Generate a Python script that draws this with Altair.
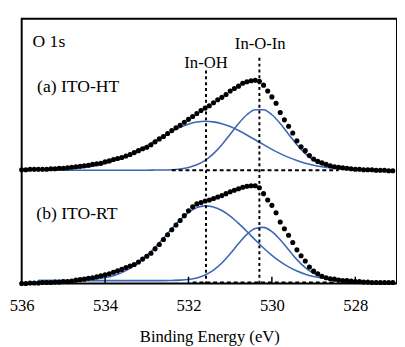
import altair as alt
import pandas as pd

# ---- data -----------------------------------------------------------------
# binding energy grid of the measured spectra (eV), 0.1 eV step
energy = [round(536.0 - 0.1 * i, 1) for i in range(90)]

# (a) ITO-HT measured O 1s intensity (arb. units, offset)
ht_counts = [
    116.5, 116.5, 117, 117, 117, 117, 117, 117.5, 117.5, 118,
    118, 118.5, 119, 119.5, 120, 120.5, 121, 122, 122.5, 123,
    124.5, 125.5, 127, 128, 129, 130.5, 132, 134, 136, 138,
    139.5, 142, 145, 148, 150.5, 153.5, 156.5, 159.5, 162, 165,
    168, 171, 174, 177, 179.5, 182, 185, 188, 190.5, 193.5,
    197, 199.5, 202, 205, 206.5, 207.5, 208, 207, 203, 197,
    191, 184.5, 175, 167.5, 161, 154, 146, 140, 136, 131,
    127.5, 125, 123.5, 122, 120.5, 119.5, 119, 118.5, 118, 117.5,
    117, 117, 116.5, 116.5, 116.5, 116, 116, 116, 115.5, 115.5,
]

# (b) ITO-RT measured O 1s intensity (arb. units)
rt_counts = [
    0, 0, 0.5, 0.5, 0.5, 1, 1, 1, 1.5, 1.5,
    2, 2, 2.5, 3.5, 4, 4.5, 5.5, 6, 7, 8,
    9, 10, 11.5, 13, 14.5, 16.5, 18, 19.5, 22, 25,
    28, 31, 35.5, 40, 45, 50, 55, 60, 64.5, 69.5,
    74.5, 78.5, 81.5, 83, 84.5, 85.5, 87, 88.5, 90, 92,
    94, 95.5, 97, 98.5, 99.5, 100, 100, 98, 92, 85.5,
    80, 72.5, 63, 56, 49.5, 42, 34.5, 28.5, 23, 17,
    12.7, 10, 7.5, 6, 5, 4.5, 3.5, 3, 3, 2.5,
    2, 2, 1.5, 1.5, 1, 1, 1, 1, 1, 1,
]

# fitted components, 0.2 eV step from 535.6 to 528.2 eV
comp_energy = [round(535.6 - 0.2 * i, 1) for i in range(38)]
ht_in_oh = [
    116.2, 116.3, 116.6, 116.9, 117.5, 118.2, 119.3, 120.8, 122.8, 125.3,
    128.4, 132.1, 136.4, 141.1, 146.1, 151.0, 155.7, 159.8, 163.1, 165.2,
    166.0, 165.4, 163.6, 160.6, 156.6, 152.0, 147.1, 142.1, 137.3, 132.9,
    129.1, 125.9, 123.2, 121.1, 119.6, 118.4, 117.6, 117.0,
]
ht_in_o_in = [
    116, 116, 116, 116, 116, 116, 116, 116, 116, 116, 116, 116, 116, 116,
    116.1, 116.2, 116.5, 117.3, 118.8, 121.5, 126.1, 132.9, 142.0, 152.8,
    163.7, 172.7, 177.8, 177.8, 172.7, 163.7, 152.8, 142.0, 132.9, 126.1,
    121.5, 118.8, 117.3, 116.5,
]
rt_in_oh = [
    3.0, 3.0, 3.1, 3.1, 3.3, 3.5, 4.0, 4.8, 6.1, 8.1,
    11.2, 15.5, 21.2, 28.4, 37.0, 46.5, 56.2, 65.3, 72.7, 77.7,
    79.5, 78.3, 74.7, 68.9, 61.5, 53.3, 44.7, 36.4, 28.9, 22.4,
    17.0, 12.8, 9.6, 7.3, 5.7, 4.7, 4.0, 3.6,
]
rt_in_o_in = [
    3.0, 3.0, 3.0, 3.0, 3.0, 3.0, 3.0, 3.0, 3.0, 3.0, 3.0, 3.0, 3.0, 3.0,
    3.0, 3.0, 3.2, 3.5, 4.2, 5.8, 8.7, 13.7, 21.0, 30.4,
    40.9, 50.3, 56.4, 57.5, 53.2, 44.9, 34.6, 24.5, 16.3, 10.4,
    6.7, 4.7, 3.7, 3.3,
]

# background (dashed) lines: start, end energy and level
bg_start = [532.4, 531.9]
bg_end = [528.4, 528.5]
bg_level = [116, 1]

# peak position markers
peak_names = ["In-OH", "In-O-In"]
peak_energy = [531.58, 530.3]
peak_top = [218, 231]

tick_values = [536, 534, 532, 530, 528]

# ---- tables ---------------------------------------------------------------
spec = pd.DataFrame({
    "energy": energy * 2,
    "value": ht_counts + rt_counts,
    "series": ["HT"] * len(energy) + ["RT"] * len(energy),
})
comps = pd.DataFrame({
    "energy": comp_energy * 4,
    "value": ht_in_oh + ht_in_o_in + rt_in_oh + rt_in_o_in,
    "series": (["HT-OH"] * 38 + ["HT-OIn"] * 38 + ["RT-OH"] * 38 + ["RT-OIn"] * 38),
})
bg = pd.DataFrame({"x1": bg_start, "x2": bg_end, "y": bg_level})
peaks = pd.DataFrame({"x": peak_energy, "top": peak_top, "bottom": [0, 0], "name": peak_names})
ticks = pd.DataFrame({"t": tick_values[1:], "y0": [0] * 4, "y1": [7] * 4})
left_labels = pd.DataFrame({
    "label": ["O 1s", "(a) ITO-HT", "(b) ITO-RT"],
    "x": [535.74, 535.63, 535.65],
    "y": [247, 201, 71],
})
peak_labels = pd.DataFrame({
    "label": ["In-OH", "In-O-In"],
    "x": [531.58, 530.28],
    "y": [226, 245],
})

FONT = "Liberation Serif, 'Times New Roman', Times, serif"
xscale = alt.Scale(domain=[527, 536], reverse=True, nice=False, zero=False)
yscale = alt.Scale(domain=[0, 271], nice=False, zero=False)
xaxis = alt.Axis(
    values=tick_values, format="d", title="Binding Energy (eV)",
    labelFlush=False, labelOverlap=False, labelPadding=15,
    titlePadding=15,
)


def X(f):
    return alt.X(f + ":Q", scale=xscale, axis=xaxis)


def Y(f):
    return alt.Y(f + ":Q", scale=yscale, axis=None)


blue = alt.Chart(comps).mark_line(
    color="#3d67b5", strokeWidth=1.6, interpolate="monotone"
).encode(x=X("energy"), y=Y("value"), detail="series:N")

bg_rules = alt.Chart(bg).mark_rule(
    color="black", strokeWidth=2, strokeDash=[4, 3]
).encode(x=X("x1"), x2="x2:Q", y=Y("y"))

peak_rules = alt.Chart(peaks).mark_rule(
    color="black", strokeWidth=2, strokeDash=[3, 3]
).encode(x=X("x"), y=Y("top"), y2="bottom:Q")

tick_rules = alt.Chart(ticks).mark_rule(color="black", strokeWidth=1.5).encode(
    x=X("t"), y=Y("y0"), y2="y1:Q"
)

dots = alt.Chart(spec).mark_circle(color="black", size=27, opacity=1).encode(
    x=X("energy"), y=Y("value"), detail="series:N"
)

txt_left = alt.Chart(left_labels).mark_text(
    align="left", baseline="middle", font=FONT, fontSize=18, color="black"
).encode(x=X("x"), y=Y("y"), text="label:N")

txt_peaks = alt.Chart(peak_labels).mark_text(
    align="center", baseline="middle", font=FONT, fontSize=17, color="black"
).encode(x=X("x"), y=Y("y"), text="label:N")

chart = alt.layer(
    blue, bg_rules, peak_rules, tick_rules, dots, txt_left, txt_peaks
).properties(
    width=384, height=271,
    autosize=alt.AutoSizeParams(type="none"),
    padding={"left": 14, "top": 7, "right": 0, "bottom": 62},
).configure_view(
    stroke="black", strokeWidth=2
).configure_axis(
    grid=False, domain=False, ticks=False,
    labelFont=FONT, labelFontSize=17, labelColor="black",
    titleFont=FONT, titleFontSize=17, titleFontWeight="normal", titleColor="black",
)

chart.save("out.html", embed_options={"renderer": "svg", "actions": False})
